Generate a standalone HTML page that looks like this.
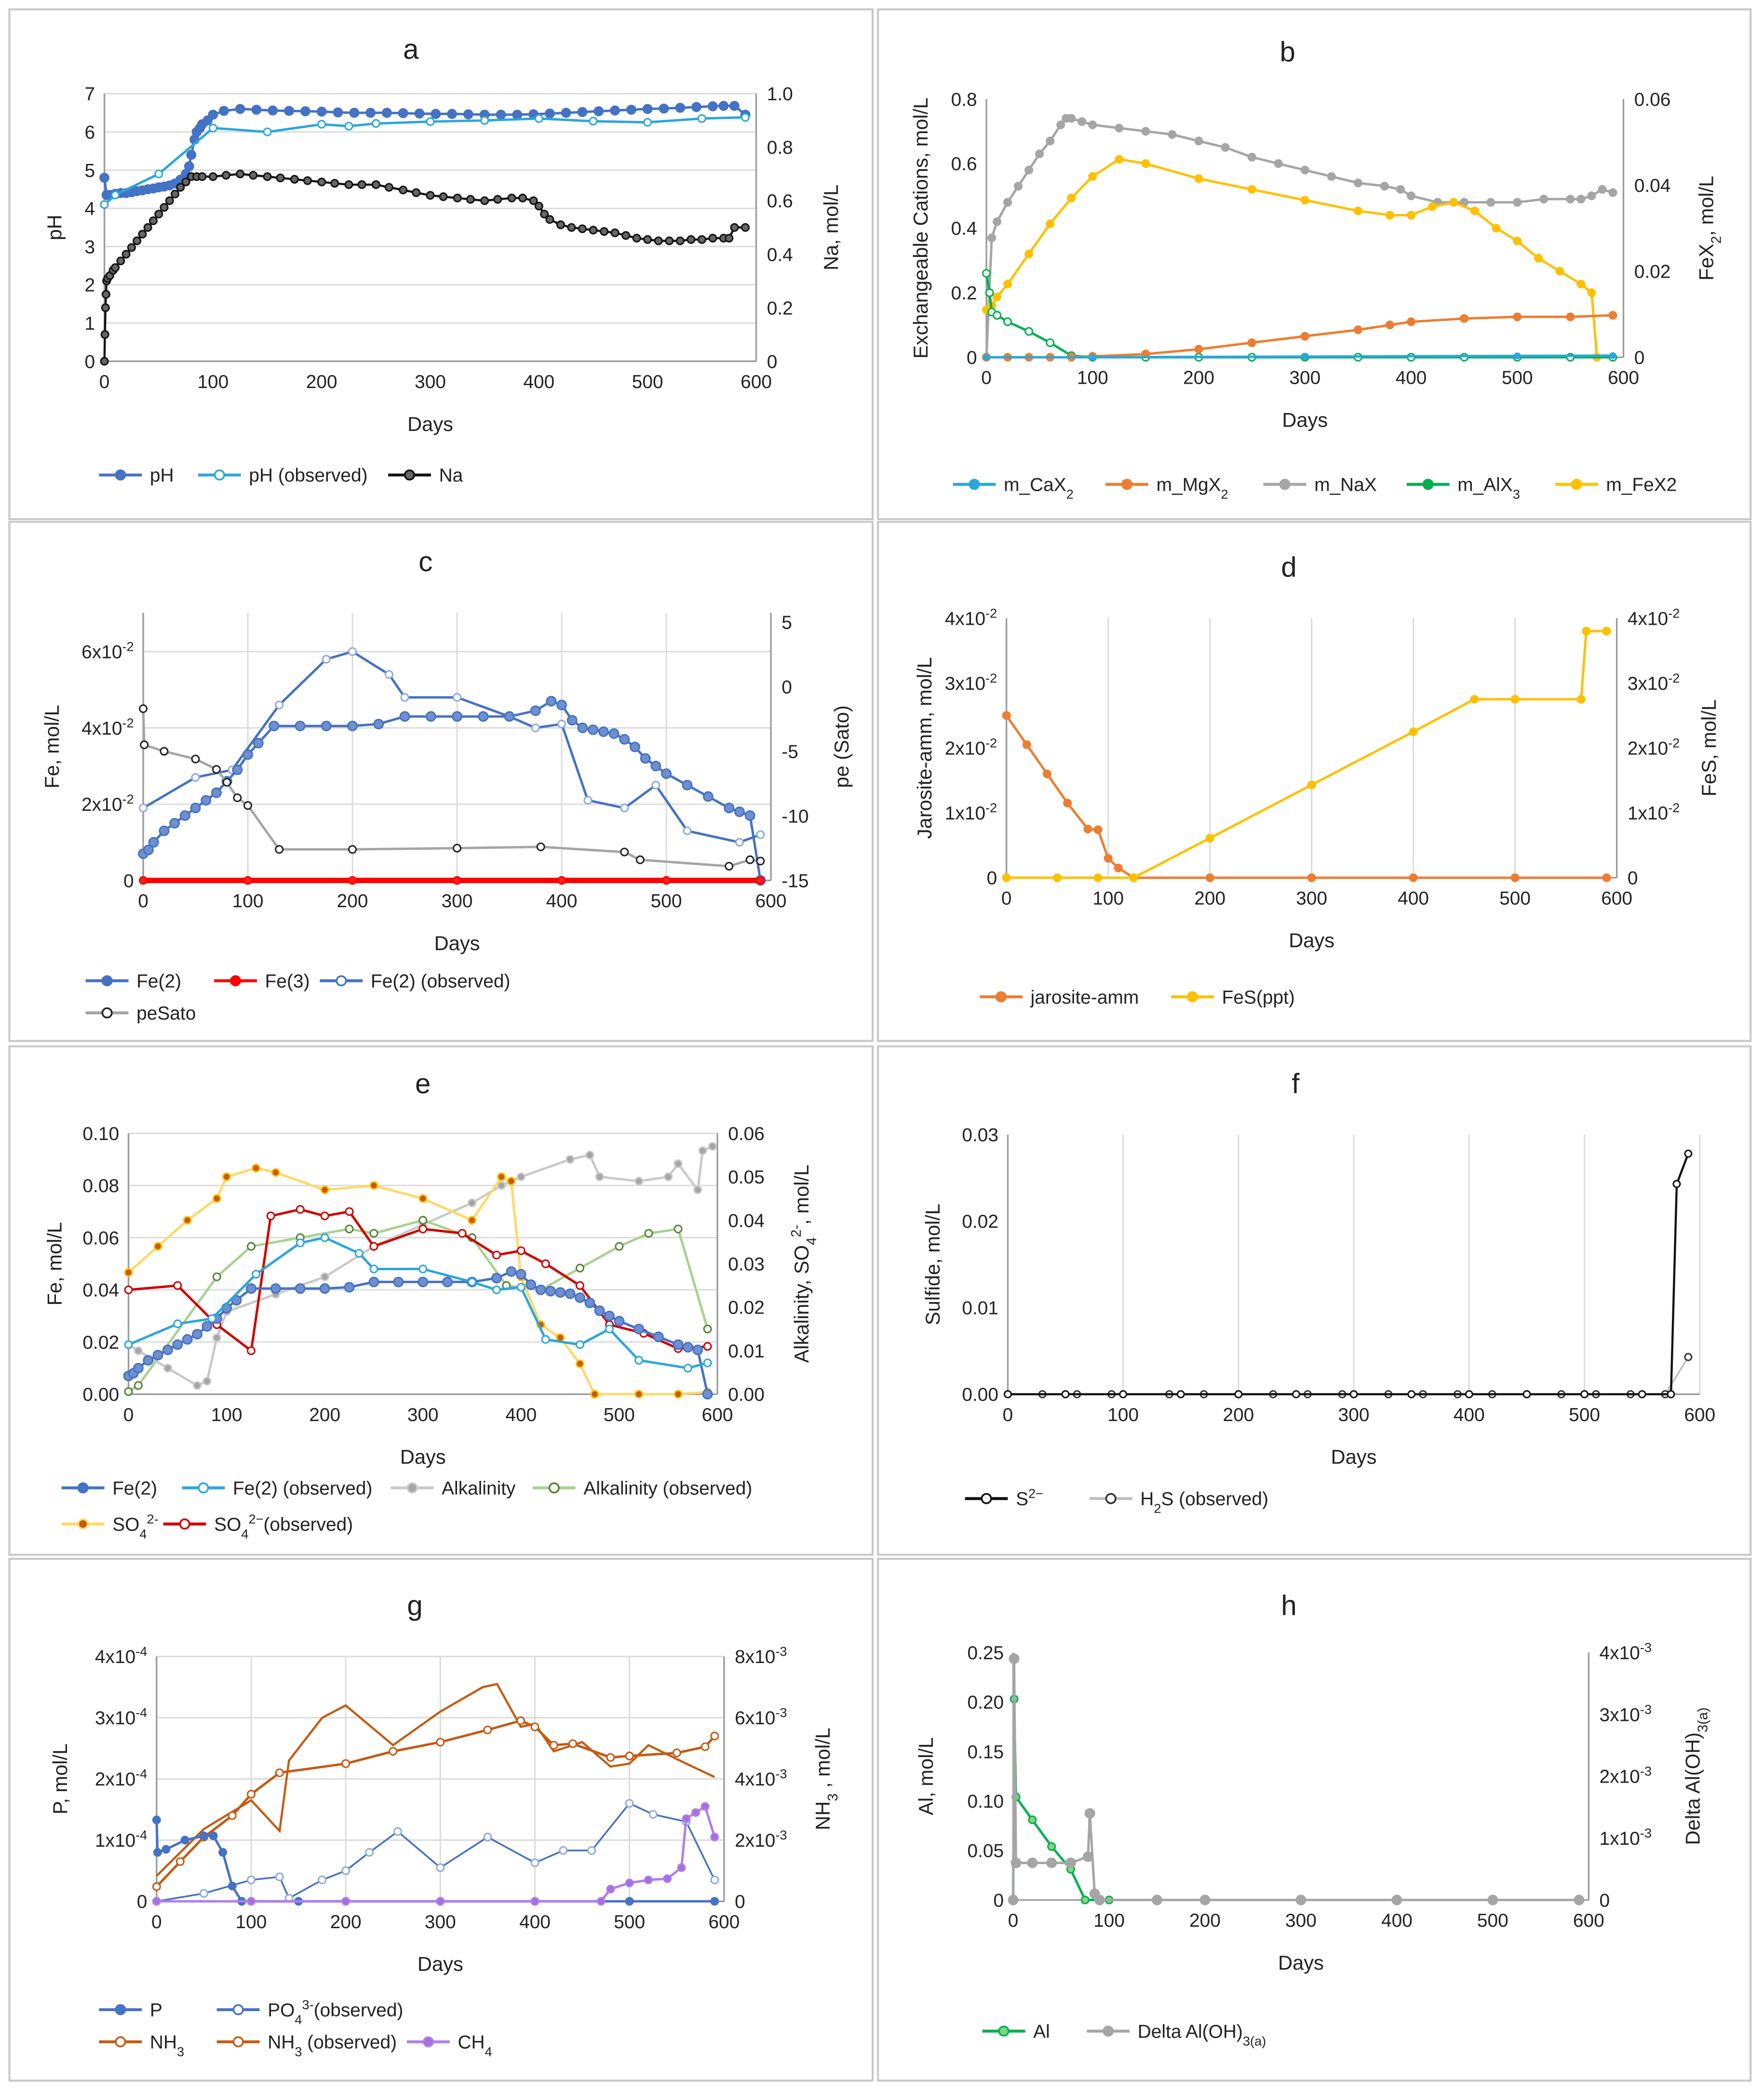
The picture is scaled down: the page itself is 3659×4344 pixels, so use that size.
<!DOCTYPE html>
<html><head><meta charset="utf-8"><title>Geochemical model panels a–h</title>
<style>html,body{margin:0;padding:0;background:#fff}svg{display:block}text{font-family:"Liberation Sans",Arial,sans-serif;fill:#222}</style>
</head><body>
<svg id="fig" xmlns="http://www.w3.org/2000/svg" width="3659" height="4344" viewBox="0 0 1318 1565" preserveAspectRatio="none"></svg>
<script>
// ===== DATA =====
// panel a
const aPhDays=[0,2,5,10,15,20,25,30,35,40,45,50,55,60,65,70,75,78,80,83,85,88,90,95,100,110,125,140,155,170,185,200,215,230,245,260,275,290,305,320,335,350,365,380,395,410,425,440,455,470,485,500,515,530,545,560,570,580,590];
const aPhVals=[4.8,4.35,4.35,4.38,4.4,4.4,4.42,4.45,4.47,4.5,4.52,4.55,4.57,4.6,4.65,4.75,4.9,5.1,5.4,5.8,6.0,6.1,6.2,6.3,6.45,6.55,6.6,6.58,6.56,6.55,6.54,6.53,6.51,6.5,6.5,6.5,6.49,6.48,6.47,6.47,6.46,6.45,6.45,6.45,6.46,6.48,6.5,6.52,6.54,6.56,6.58,6.6,6.61,6.63,6.65,6.67,6.68,6.68,6.45];
const aPhObsDays=[0,10,50,100,150,200,225,250,300,350,400,450,500,550,590];
const aPhObsVals=[4.1,4.35,4.9,6.1,6.0,6.2,6.15,6.22,6.27,6.3,6.35,6.28,6.25,6.35,6.38];
const aNaDays=[0,0.5,1,1.5,2,3,5,8,10,15,20,25,30,35,40,45,50,55,60,65,70,75,80,85,90,100,112,125,137,150,162,175,187,200,212,225,237,250,262,275,287,300,312,325,337,350,362,375,385,395,400,405,410,420,430,440,450,460,470,480,490,500,510,520,530,540,550,560,570,575,580,590];
const aNaVals=[0,0.1,0.2,0.25,0.3,0.31,0.32,0.34,0.35,0.375,0.40,0.425,0.45,0.475,0.50,0.525,0.55,0.575,0.60,0.625,0.65,0.67,0.69,0.69,0.69,0.69,0.695,0.70,0.695,0.69,0.685,0.68,0.675,0.67,0.665,0.66,0.66,0.66,0.65,0.64,0.63,0.62,0.615,0.61,0.605,0.60,0.605,0.61,0.61,0.60,0.58,0.55,0.53,0.51,0.50,0.495,0.49,0.485,0.48,0.47,0.46,0.455,0.45,0.45,0.45,0.455,0.455,0.46,0.46,0.46,0.50,0.50];
// panel b
const bNaXDays=[0,5,10,20,30,40,50,60,70,75,80,90,100,125,150,175,200,225,250,275,300,325,350,375,390,400,425,450,475,500,525,550,560,570,580,590];
const bNaXVals=[0,0.37,0.42,0.48,0.53,0.58,0.63,0.67,0.72,0.74,0.74,0.73,0.72,0.71,0.70,0.69,0.67,0.65,0.62,0.60,0.58,0.56,0.54,0.53,0.52,0.50,0.48,0.48,0.48,0.48,0.49,0.49,0.49,0.50,0.52,0.51];
const bFeXDays=[0,5,10,20,40,60,80,100,125,150,200,250,300,350,380,400,420,440,460,480,500,520,540,560,570,575,590];
const bFeXVals=[0.011,0.012,0.014,0.017,0.024,0.031,0.037,0.042,0.046,0.045,0.0415,0.039,0.0365,0.034,0.033,0.033,0.035,0.036,0.034,0.030,0.027,0.023,0.020,0.017,0.015,0,0];
const bAlXDays=[0,3,5,10,20,40,60,80,100,150,200,250,300,350,400,450,500,550,590];
const bAlXVals=[0.26,0.2,0.14,0.13,0.11,0.08,0.045,0.005,0,0,0,0,0,0,0,0,0,0,0];
const bMgXDays=[0,20,40,60,80,100,150,200,250,300,350,380,400,450,500,550,590];
const bMgXVals=[0,0,0,0,0,0.003,0.01,0.025,0.045,0.065,0.085,0.1,0.11,0.12,0.125,0.125,0.13];
const bCaXDays=[0,100,300,500,590];
const bCaXVals=[0,0,0.002,0.004,0.005];
// panel c (Fe in units of 1e-2 mol/L)
const cFe2Days=[0,5,10,20,30,40,50,60,70,80,90,100,110,125,150,175,200,225,250,275,300,325,350,375,390,400,410,420,430,440,450,460,470,480,490,500,520,540,560,570,580,590];
const cFe2Vals=[0.7,0.8,1.0,1.3,1.5,1.7,1.9,2.1,2.3,2.6,2.9,3.3,3.6,4.05,4.05,4.05,4.05,4.1,4.3,4.3,4.3,4.3,4.3,4.45,4.7,4.6,4.2,4.0,3.95,3.9,3.85,3.7,3.5,3.2,3.0,2.8,2.5,2.2,1.9,1.8,1.7,0];
const cFe2ObsDays=[0,50,85,130,175,200,235,250,300,350,375,400,425,460,490,520,570,590];
const cFe2ObsVals=[1.9,2.7,2.9,4.6,5.8,6.0,5.4,4.8,4.8,4.3,4.0,4.1,2.1,1.9,2.5,1.3,1.0,1.2];
const cFe3Days=[0,100,200,300,400,500,590];
const cFe3Vals=[0,0,0,0,0,0,0];
const cPeDays=[0,1,20,50,70,80,90,100,130,200,300,380,460,475,560,580,590];
const cPeVals=[-1.7,-4.5,-5.0,-5.6,-6.4,-7.4,-8.6,-9.2,-12.6,-12.6,-12.5,-12.4,-12.8,-13.4,-13.9,-13.4,-13.5];
// panel d
const dJarDays=[0,20,40,60,80,90,100,110,125,200,300,400,500,590];
const dJarVals=[0.025,0.0205,0.016,0.0115,0.0075,0.0074,0.003,0.0015,0,0,0,0,0,0];
const dFeSDays=[0,50,90,125,200,300,400,460,500,565,570,590];
const dFeSVals=[0,0,0,0,0.0061,0.0143,0.0225,0.0275,0.0275,0.0275,0.038,0.038];
// panel e
const eAlkDays=[0,10,40,70,80,90,100,150,200,250,300,350,380,400,450,470,480,520,550,560,580,585,595];
const eAlkVals=[0.0114,0.010,0.006,0.002,0.003,0.013,0.019,0.023,0.027,0.034,0.039,0.044,0.048,0.050,0.054,0.055,0.050,0.049,0.050,0.053,0.047,0.056,0.057];
const eAlkObsDays=[0,10,90,125,175,225,250,300,350,385,420,460,500,530,560,590];
const eAlkObsVals=[0.0006,0.002,0.027,0.034,0.036,0.038,0.037,0.040,0.036,0.025,0.024,0.029,0.034,0.037,0.038,0.015];
const eSO4Days=[0,30,60,90,100,130,150,200,250,300,350,380,390,400,420,440,460,475,520,560,590];
const eSO4Vals=[0.028,0.034,0.040,0.045,0.050,0.052,0.051,0.047,0.048,0.045,0.040,0.050,0.049,0.027,0.016,0.013,0.007,0,0,0,0.0005];
const eSO4ObsDays=[0,50,90,125,145,175,200,225,250,300,340,375,400,425,460,490,525,560,590];
const eSO4ObsVals=[0.024,0.025,0.016,0.010,0.041,0.0425,0.041,0.042,0.034,0.038,0.037,0.032,0.033,0.030,0.025,0.016,0.014,0.0105,0.011];
// panel f
const fS2Days=[0,50,100,150,200,250,300,350,400,450,500,550,575,580,590];
const fS2Vals=[0,0,0,0,0,0,0,0,0,0,0,0,0,0.0243,0.0278];
const fH2SDays=[0,30,60,90,140,170,200,230,260,290,330,360,390,420,450,480,510,540,570,590];
const fH2SVals=[0,0,0,0,0,0,0,0,0,0,0,0,0,0,0,0,0,0,0,0.0043];
// panel g
const gPDays=[0,1,10,30,50,60,70,80,90,150,200,300,400,500,590];
const gPVals=[1.33e-4,0.8e-4,0.85e-4,1.0e-4,1.07e-4,1.07e-4,0.8e-4,0.25e-4,0,0,0,0,0,0,0];
const gPO4Days=[0,50,100,130,140,175,200,225,255,300,350,400,430,460,500,525,560,590];
const gPO4Vals=[0,0.13e-4,0.35e-4,0.4e-4,0.05e-4,0.35e-4,0.5e-4,0.8e-4,1.14e-4,0.55e-4,1.05e-4,0.63e-4,0.83e-4,0.83e-4,1.6e-4,1.42e-4,1.3e-4,0.35e-4];
const gNH3Days=[0,25,50,80,100,130,200,250,300,350,385,400,420,440,480,500,550,580,590];
const gNH3Vals=[0.48e-3,1.3e-3,2.1e-3,2.8e-3,3.5e-3,4.2e-3,4.5e-3,4.9e-3,5.2e-3,5.6e-3,5.9e-3,5.7e-3,5.1e-3,5.15e-3,4.7e-3,4.75e-3,4.85e-3,5.05e-3,5.4e-3];
const gNH3ObsDays=[0,50,100,130,140,175,200,250,300,345,360,385,400,420,450,480,500,520,560,590];
const gNH3ObsVals=[0.83e-3,2.36e-3,3.3e-3,2.3e-3,4.6e-3,6.0e-3,6.4e-3,5.1e-3,6.2e-3,7.0e-3,7.1e-3,5.7e-3,5.8e-3,4.9e-3,5.2e-3,4.4e-3,4.5e-3,5.1e-3,4.5e-3,4.06e-3];
const gCH4Days=[0,100,200,300,400,470,480,500,520,540,555,560,570,580,590];
const gCH4Vals=[0,0,0,0,0,0,0.4e-3,0.6e-3,0.7e-3,0.74e-3,1.1e-3,2.7e-3,2.9e-3,3.1e-3,2.1e-3];
// panel h
const hAlDays=[0,1,3,20,40,60,75,100,200,300,400,500,590];
const hAlVals=[0,0.203,0.104,0.081,0.054,0.031,0,0,0,0,0,0,0];
const hDAlDays=[0,1,3,20,40,60,78,80,85,90,150,200,300,400,500,590];
const hDAlVals=[0,3.9e-3,0.6e-3,0.6e-3,0.6e-3,0.6e-3,0.7e-3,1.4e-3,0.1e-3,0,0,0,0,0,0,0];
// tick labels
const xTickVals=[0,100,200,300,400,500,600];
const aLeftTicks=[0,1,2,3,4,5,6,7];
const aRightTicks=[0,0.2,0.4,0.6,0.8,1.0];
const aRightLabels=["0","0.2","0.4","0.6","0.8","1.0"];
const bLeftTicks=[0,0.2,0.4,0.6,0.8];
const bRightTicks=[0,0.02,0.04,0.06];
const cLeftTicks=[0,2,4,6];
const cLeftLabels=["0","2x10{^-2}","4x10{^-2}","6x10{^-2}"];
const cRightTicks=[5,0,-5,-10,-15];
const dTicks=[0,0.01,0.02,0.03,0.04];
const dLabels=["0","1x10{^-2}","2x10{^-2}","3x10{^-2}","4x10{^-2}"];
const eLeftTicks=[0,0.02,0.04,0.06,0.08,0.10];
const eLeftLabels=["0.00","0.02","0.04","0.06","0.08","0.10"];
const eRightTicks=[0,0.01,0.02,0.03,0.04,0.05,0.06];
const eRightLabels=["0.00","0.01","0.02","0.03","0.04","0.05","0.06"];
const fTicks=[0,0.01,0.02,0.03];
const fLabels=["0.00","0.01","0.02","0.03"];
const gLeftTicks=[0,1e-4,2e-4,3e-4,4e-4];
const gLeftLabels=["0","1x10{^-4}","2x10{^-4}","3x10{^-4}","4x10{^-4}"];
const gRightTicks=[0,2e-3,4e-3,6e-3,8e-3];
const gRightLabels=["0","2x10{^-3}","4x10{^-3}","6x10{^-3}","8x10{^-3}"];
const hLeftTicks=[0,0.05,0.10,0.15,0.20,0.25];
const hLeftLabels=["0","0.05","0.10","0.15","0.20","0.25"];
const hRightTicks=[0,1e-3,2e-3,3e-3,4e-3];
const hRightLabels=["0","1x10{^-3}","2x10{^-3}","3x10{^-3}","4x10{^-3}"];

// ===== DRAWING =====
const NS="http://www.w3.org/2000/svg";
const svg=document.getElementById('fig');
function el(tag,attrs,parent){const e=document.createElementNS(NS,tag);for(const k in attrs)e.setAttribute(k,attrs[k]);(parent||svg).appendChild(e);return e;}
function txt(x,y,str,o,parent){
  o=o||{};
  const t=el('text',{x:x,y:y,'font-size':o.size||14,'text-anchor':o.anchor||'middle'},parent);
  if(o.rot)t.setAttribute('transform','rotate('+o.rot+' '+x+' '+y+')');
  const re=/\{([\^_])([^}]*)\}/g;let last=0,m;
  while((m=re.exec(str))){
    if(m.index>last){const s=el('tspan',{},t);s.textContent=str.slice(last,m.index);}
    const s=el('tspan',{'font-size':(o.size||14)*0.7,'baseline-shift':m[1]=='^'?'super':'sub'},t);s.textContent=m[2];
    last=re.lastIndex;
  }
  if(last<str.length){const s=el('tspan',{},t);s.textContent=str.slice(last);}
  return t;
}
function fmt(v){return String(v);}
function panel(p){
  const g=el('g',{});
  
  
  const X=d=>p.x0+d/600*(p.x1-p.x0);
  const YL=v=>p.yb-(v-p.lmin)/(p.lmax-p.lmin)*(p.yb-p.yt);
  const rt=p.ryt===undefined?p.yt:p.ryt;
  const YR=v=>p.yb-(v-p.rmin)/(p.rmax-p.rmin)*(p.yb-rt);
  const top=p.top||Math.min(p.yt,rt);
  if(p.hgrid)p.lt.forEach(v=>{const l=el('line',{x1:p.x0,x2:p.x1,y1:YL(v),y2:YL(v),stroke:'#d9d9d9','stroke-width':1},g);});
  if(p.vgrid)xTickVals.forEach(d=>{if(d>0){const l=el('line',{x1:X(d),x2:X(d),y1:top,y2:p.yb,stroke:'#d9d9d9','stroke-width':1},g);}});
  const ax=el('line',{x1:p.x0,x2:p.x1,y1:p.yb,y2:p.yb,stroke:'#9a9a9a','stroke-width':1.2},g);
  
  const ly=el('line',{x1:p.x0,x2:p.x0,y1:top,y2:p.yb,stroke:'#9a9a9a','stroke-width':1.2},g);
  
  if(p.rt){const ry=el('line',{x1:p.x1,x2:p.x1,y1:top,y2:p.yb,stroke:'#9a9a9a','stroke-width':1.2},g);}
  xTickVals.forEach(d=>{const t=txt(X(d),p.yb+20,String(d),{},g);});
  p.lt.forEach((v,i)=>{const t=txt(p.x0-7,YL(v)+5,p.ll?p.ll[i]:fmt(v),{anchor:'end'},g);});
  if(p.rt)p.rt.forEach((v,i)=>{const t=txt(p.x1+8,YR(v)+5,p.rl?p.rl[i]:fmt(v),{anchor:'start'},g);});
  const tt=txt(p.tx,p.ty,p.title,{size:21},g);
  const xt=txt((p.x0+p.x1)/2,p.yb+52,'Days',{size:15},g);
  const lt=txt(p.ltx,(top+p.yb)/2,p.ltitle,{size:15,rot:-90},g);
  if(p.rtitle){const r=txt(p.rtx,(top+p.yb)/2,p.rtitle,{size:15,rot:-90},g);}
  p.series.forEach(s=>{
    const Y=s.axis=='R'?YR:YL;
    const sg=el('g',{},g);
    
    
    const pts=s.days.map((d,i)=>X(d).toFixed(1)+','+Y(s.vals[i]).toFixed(1)).join(' ');
    el('polyline',{points:pts,fill:'none',stroke:s.line,'stroke-width':s.lw||1.8},sg);
    if(s.r!==0)s.days.forEach((d,i)=>{
      const c=el('circle',{cx:X(d),cy:Y(s.vals[i]),r:s.r||2.7,fill:s.fill||s.line,stroke:s.mstroke||s.line,'stroke-width':1.1},sg);
      
      
    });
  });
  p.legend.forEach(L=>{
    const lg=el('g',{},g);
    
    
    el('line',{x1:L[0],x2:L[0]+32,y1:L[1],y2:L[1],stroke:L[3],'stroke-width':2.2},lg);
    el('circle',{cx:L[0]+16,cy:L[1],r:3.5,fill:L[4]||L[3],stroke:L[5]||L[3],'stroke-width':1.3},lg);
    txt(L[0]+38,L[1]+5,L[2],{anchor:'start'},lg);
  });
}
[[7,7,645,381],[656,7,652,381],[7,390,645,388],[656,390,652,388],[7,782,645,380],[656,782,652,380],[7,1165,645,390],[656,1165,652,390]].forEach(r=>{
  const f=el('rect',{x:r[0],y:r[1],width:r[2],height:r[3],fill:'none',stroke:'#c8c8c8','stroke-width':1.5});
  
});
const BLUE='#4472c4',LB='#2aa6dc',OR='#ed7d31',GR='#a5a5a5',GN='#00b050',YL='#ffc000';
const W='#ffffff';
panel({name:'panel-a',title:'a',tx:307,ty:44,x0:78,x1:565,yb:270,yt:70,lmin:0,lmax:7,rmin:0,rmax:1,
 lt:aLeftTicks,rt:aRightTicks,rl:aRightLabels,hgrid:true,ltx:46,ltitle:'pH',rtx:626,rtitle:'Na, mol/L',
 series:[{name:'ph-series',days:aPhDays,vals:aPhVals,line:BLUE,r:3.2},
  {name:'ph-observed-series',days:aPhObsDays,vals:aPhObsVals,line:LB,fill:W,lw:1.8},
  {name:'na-series',days:aNaDays,vals:aNaVals,axis:'R',line:'#111',fill:'#666',mstroke:'#111',lw:1.6}],
 legend:[[74,355,'pH',BLUE],[148,355,'pH (observed)',LB,W],[290,355,'Na','#111','#666']]});
panel({name:'panel-b',title:'b',tx:962,ty:46,x0:737,x1:1213,yb:267,yt:74,lmin:0,lmax:0.8,rmin:0,rmax:0.06,
 lt:bLeftTicks,rt:bRightTicks,ltx:693,ltitle:'Exchangeable Cations, mol/L',rtx:1280,rtitle:'FeX{_2}, mol/L',
 series:[{name:'m-nax-series',days:bNaXDays,vals:bNaXVals,line:GR},
  {name:'m-fex2-series',days:bFeXDays,vals:bFeXVals,axis:'R',line:YL},
  {name:'m-alx3-series',days:bAlXDays,vals:bAlXVals,line:GN,fill:W},
  {name:'m-mgx2-series',days:bMgXDays,vals:bMgXVals,line:OR},
  {name:'m-cax2-series',days:bCaXDays,vals:bCaXVals,line:LB,r:2}],
 legend:[[712,362,'m_CaX{_2}',LB],[826,362,'m_MgX{_2}',OR],[944,362,'m_NaX',GR],[1051,362,'m_AlX{_3}',GN],[1162,362,'m_FeX2',YL]]});
panel({name:'panel-c',title:'c',tx:318,ty:427,x0:107,x1:576,yb:658,yt:487,lmin:0,lmax:6,rmin:-15,rmax:5,ryt:465,top:458,
 lt:cLeftTicks,ll:cLeftLabels,rt:cRightTicks,rl:["5","0","-5","-10","-15"],hgrid:true,vgrid:true,ltx:44,ltitle:'Fe, mol/L',rtx:634,rtitle:'pe (Sato)',
 series:[{name:'fe2-observed-series',days:cFe2ObsDays,vals:cFe2ObsVals,line:BLUE,fill:W,mstroke:'#8faadc',lw:1.8},
  {name:'fe2-series',days:cFe2Days,vals:cFe2Vals,line:BLUE,fill:'#6f8fd0',r:3.4},
  {name:'pesato-series',days:cPeDays,vals:cPeVals,axis:'R',line:GR,fill:W,mstroke:'#222',lw:1.8},
  {name:'fe3-series',days:cFe3Days,vals:cFe3Vals,line:'#ff0000',fill:'#ff2020',lw:4}],
 legend:[[64,733,'Fe(2)',BLUE],[160,733,'Fe(3)','#ff0000'],[239,733,'Fe(2) (observed)',BLUE,W],[64,757,'peSato',GR,W,'#222']]});
panel({name:'panel-d',title:'d',tx:963,ty:431,x0:752,x1:1208,yb:656,yt:462,lmin:0,lmax:0.04,rmin:0,rmax:0.04,
 lt:dTicks,ll:dLabels,rt:dTicks,rl:dLabels,vgrid:true,ltx:696,ltitle:'Jarosite-amm, mol/L',rtx:1282,rtitle:'FeS, mol/L',
 series:[{name:'jarosite-amm-series',days:dJarDays,vals:dJarVals,line:OR},
  {name:'fes-ppt-series',days:dFeSDays,vals:dFeSVals,axis:'R',line:YL}],
 legend:[[732,745,'jarosite-amm',OR],[875,745,'FeS(ppt)',YL]]});
panel({name:'panel-e',title:'e',tx:316,ty:817,x0:96,x1:536,yb:1042,yt:847,lmin:0,lmax:0.10,rmin:0,rmax:0.06,
 lt:eLeftTicks,ll:eLeftLabels,rt:eRightTicks,rl:eRightLabels,hgrid:true,ltx:46,ltitle:'Fe, mol/L',rtx:604,rtitle:'Alkalinity, SO{_4}{^2-}, mol/L',
 series:[{name:'alkalinity-series',days:eAlkDays,vals:eAlkVals,axis:'R',line:'#c9c9c9',fill:GR},
  {name:'alkalinity-observed-series',days:eAlkObsDays,vals:eAlkObsVals,axis:'R',line:'#a9d18e',fill:W,mstroke:'#548235'},
  {name:'so4-series',days:eSO4Days,vals:eSO4Vals,axis:'R',line:'#ffd966',fill:'#c55a11',mstroke:'#ffc000'},
  {name:'so4-observed-series',days:eSO4ObsDays,vals:eSO4ObsVals,axis:'R',line:'#d00000',fill:W},
  {name:'fe2-series',days:cFe2Days,vals:cFe2Vals.map(v=>v/100),line:BLUE,fill:'#6f8fd0',r:3.4},
  {name:'fe2-observed-series',days:cFe2ObsDays,vals:cFe2ObsVals.map(v=>v/100),line:LB,fill:W}],
 legend:[[46,1112,'Fe(2)',BLUE],[136,1112,'Fe(2) (observed)',LB,W],[292,1112,'Alkalinity','#c9c9c9',GR],[398,1112,'Alkalinity (observed)','#a9d18e',W,'#548235'],[46,1139,'SO{_4}{^2-}','#ffd966','#c55a11'],[122,1139,'SO{_4}{^2−}(observed)','#d00000',W]]});
panel({name:'panel-f',title:'f',tx:968,ty:817,x0:753,x1:1270,yb:1042,yt:848,lmin:0,lmax:0.03,
 lt:fTicks,ll:fLabels,vgrid:true,ltx:702,ltitle:'Sulfide, mol/L',
 series:[{name:'h2s-observed-series',days:fH2SDays,vals:fH2SVals,line:'#bfbfbf',fill:W,mstroke:'#333',lw:1.3,r:2.5},
  {name:'s2-series',days:fS2Days,vals:fS2Vals,line:'#111',fill:W,lw:1.6,r:2.5}],
 legend:[[721,1120,'S{^2−}','#111',W],[814,1120,'H{_2}S (observed)','#bfbfbf',W,'#333']]});
panel({name:'panel-g',title:'g',tx:310,ty:1207,x0:117,x1:541,yb:1421,yt:1238,lmin:0,lmax:4e-4,rmin:0,rmax:8e-3,
 lt:gLeftTicks,ll:gLeftLabels,rt:gRightTicks,rl:gRightLabels,hgrid:true,vgrid:true,ltx:50,ltitle:'P, mol/L',rtx:620,rtitle:'NH{_3} , mol/L',
 series:[{name:'nh3-observed-series',days:gNH3ObsDays,vals:gNH3ObsVals,axis:'R',line:'#c55a11',r:0,lw:1.6},
  {name:'nh3-series',days:gNH3Days,vals:gNH3Vals,axis:'R',line:'#c55a11',fill:W},
  {name:'po4-observed-series',days:gPO4Days,vals:gPO4Vals,line:BLUE,fill:W,mstroke:'#8faadc',lw:1.3},
  {name:'p-series',days:gPDays,vals:gPVals,line:BLUE},
  {name:'ch4-series',days:gCH4Days,vals:gCH4Vals,axis:'R',line:'#b07fe8',fill:'#a66ee0'}],
 legend:[[74,1502,'P',BLUE],[162,1502,'PO{_4}{^3-}(observed)',BLUE,W],[74,1526,'NH{_3}','#c55a11',W],[162,1526,'NH{_3} (observed)','#c55a11',W],[304,1526,'CH{_4}','#b07fe8','#a66ee0']]});
panel({name:'panel-h',title:'h',tx:963,ty:1207,x0:757,x1:1187,yb:1420,yt:1235,lmin:0,lmax:0.25,rmin:0,rmax:4e-3,
 lt:hLeftTicks,ll:hLeftLabels,rt:hRightTicks,rl:hRightLabels,ltx:697,ltitle:'Al, mol/L',rtx:1270,rtitle:'Delta Al(OH){_3(a)}',
 series:[{name:'al-series',days:hAlDays,vals:hAlVals,line:GN,fill:'#7fd77f'},
  {name:'delta-aloh3-series',days:hDAlDays,vals:hDAlVals,axis:'R',line:GR,fill:GR,r:3.4}],
 legend:[[734,1518,'Al',GN,'#7fd77f'],[812,1518,'Delta Al(OH){_3(a)}',GR]]});
</script>
</body></html>
